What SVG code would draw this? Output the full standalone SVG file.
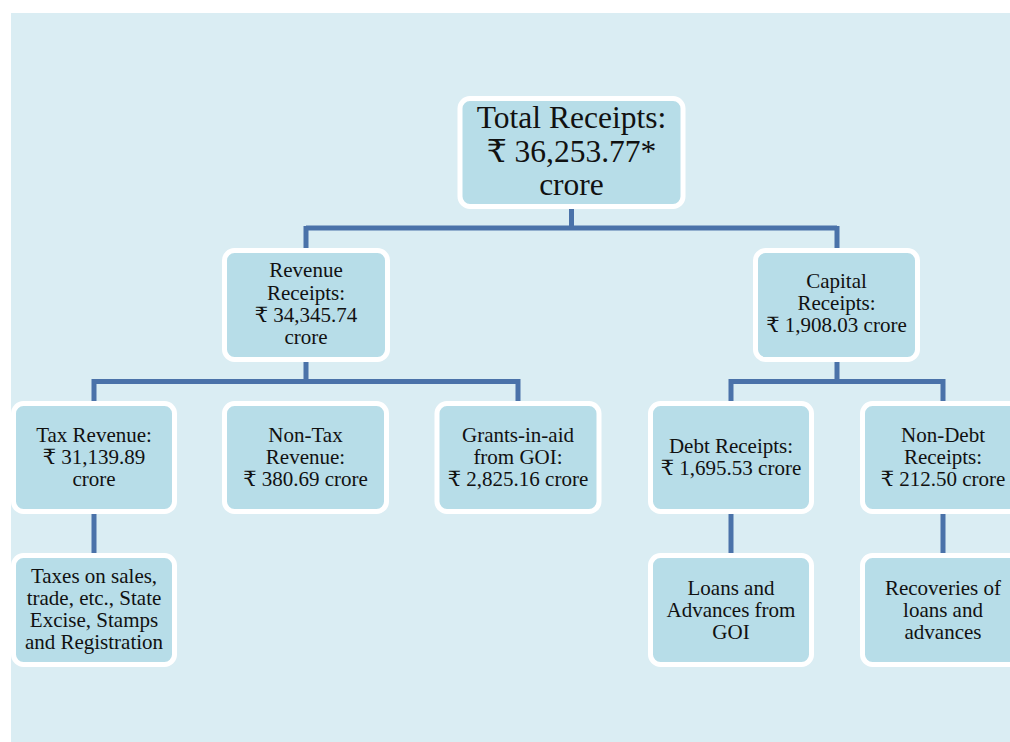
<svg xmlns="http://www.w3.org/2000/svg" width="1010" height="742" viewBox="0 0 1010 742">
<style>
.bg{fill:#DAEDF3}
.node rect{fill:#B7DDE8;stroke:#FFFFFF;stroke-width:5}
.node text{font-family:"Liberation Serif","DejaVu Serif",serif;font-size:21px;fill:#111;text-anchor:middle}
.big text{font-size:31.5px}
.conn path{fill:none;stroke:#4A72A9;stroke-width:5}
</style>
<rect class="bg" x="11" y="13" width="999" height="729"/>
<g class="conn">
<path d="M571.5 206 V228 M306 228 H837 M306 226 V251 M837 226 V251"/>
<path d="M306 359 V381.5 M94 381.5 H518 M94 379 V404 M518 379 V404"/>
<path d="M837 359 V381.5 M731 381.5 H943 M731 379 V404 M943 379 V404"/>
<path d="M94 511 V556 M731 511 V556 M943 511 V556"/>
</g>
<g id="total" class="node big">
<rect x="460" y="98.5" width="223" height="108" rx="10"/>
<text x="571.5" y="128">Total Receipts:</text>
<text x="571.5" y="162">₹ 36,253.77*</text>
<text x="571.5" y="195">crore</text>
</g>
<g id="revenue" class="node">
<rect x="224.5" y="250.5" width="163" height="109" rx="10"/>
<text x="306" y="277">Revenue</text>
<text x="306" y="300">Receipts:</text>
<text x="306" y="322">₹ 34,345.74</text>
<text x="306" y="344">crore</text>
</g>
<g id="capital" class="node">
<rect x="755.5" y="250.5" width="162" height="109" rx="10"/>
<text x="836.5" y="288">Capital</text>
<text x="836.5" y="310">Receipts:</text>
<text x="836.5" y="332">₹ 1,908.03 crore</text>
</g>
<g id="tax" class="node">
<rect x="13.5" y="403.5" width="161" height="108" rx="10"/>
<text x="94" y="442">Tax Revenue:</text>
<text x="94" y="464">₹ 31,139.89</text>
<text x="94" y="486">crore</text>
</g>
<g id="nontax" class="node">
<rect x="224.5" y="403.5" width="162" height="108" rx="10"/>
<text x="305.5" y="442">Non-Tax</text>
<text x="305.5" y="464">Revenue:</text>
<text x="305.5" y="486">₹ 380.69 crore</text>
</g>
<g id="grants" class="node">
<rect x="437" y="403.5" width="162" height="108" rx="10"/>
<text x="518" y="442">Grants-in-aid</text>
<text x="518" y="464">from GOI:</text>
<text x="518" y="486">₹ 2,825.16 crore</text>
</g>
<g id="debt" class="node">
<rect x="650.5" y="403.5" width="161" height="108" rx="10"/>
<text x="731" y="453">Debt Receipts:</text>
<text x="731" y="475">₹ 1,695.53 crore</text>
</g>
<g id="nondebt" class="node">
<rect x="862.5" y="403.5" width="161" height="108" rx="10"/>
<text x="943" y="442">Non-Debt</text>
<text x="943" y="464">Receipts:</text>
<text x="943" y="486">₹ 212.50 crore</text>
</g>
<g id="taxes-sales" class="node">
<rect x="13.5" y="555.5" width="161" height="109" rx="10"/>
<text x="94" y="583">Taxes on sales,</text>
<text x="94" y="605">trade, etc., State</text>
<text x="94" y="627">Excise, Stamps</text>
<text x="94" y="649">and Registration</text>
</g>
<g id="loans" class="node">
<rect x="650.5" y="555.5" width="161" height="109" rx="10"/>
<text x="731" y="595">Loans and</text>
<text x="731" y="617">Advances from</text>
<text x="731" y="639">GOI</text>
</g>
<g id="recoveries" class="node">
<rect x="862.5" y="555.5" width="161" height="109" rx="10"/>
<text x="943" y="595">Recoveries of</text>
<text x="943" y="617">loans and</text>
<text x="943" y="639">advances</text>
</g>
</svg>
